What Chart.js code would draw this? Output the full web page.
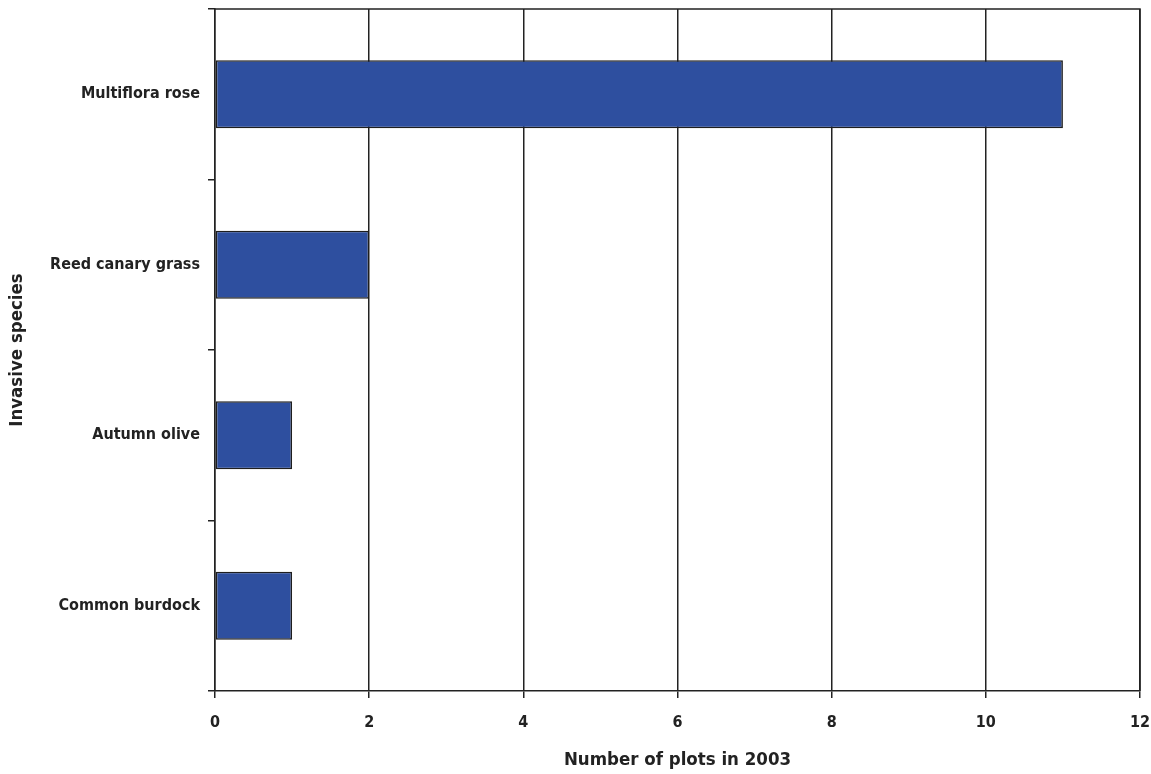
<!DOCTYPE html>
<html>
<head>
<meta charset="utf-8">
<script src="https://cdn.jsdelivr.net/npm/chart.js@4"></script>
<style>
  html, body { margin: 0; padding: 0; background: #fff; }
  #wrap { width: 1151px; height: 774px; }
</style>
</head>
<body>
<div id="wrap"><canvas id="barChart" width="1151" height="774"></canvas></div>
<script>
const species = ['Multiflora rose', 'Reed canary grass', 'Autumn olive', 'Common burdock'];
const plotCounts = [11, 2, 1, 1];
const xTicks = [0, 2, 4, 6, 8, 10, 12];

const FONT = "'DejaVu Sans Condensed', 'Liberation Sans Narrow', 'Arial Narrow', sans-serif";

// draws the box round the plot area (top and right edges)
const frame = {
  id: 'frame',
  afterDraw(chart) {
    const { ctx, chartArea: a } = chart;
    ctx.save();
    ctx.strokeStyle = '#222';
    ctx.lineWidth = 1.5;
    ctx.beginPath();
    ctx.moveTo(a.left, a.top);
    ctx.lineTo(a.right, a.top);
    ctx.lineTo(a.right, a.bottom);
    ctx.stroke();
    ctx.restore();
  }
};

const noPad = (scale) => {
  scale.paddingTop = 0;
  scale.paddingBottom = 0;
  scale.paddingLeft = 0;
  scale.paddingRight = 0;
};

const ctx = document.getElementById('barChart').getContext('2d');
new Chart(ctx, {
  type: 'bar',
  data: {
    labels: species,
    datasets: [{
      label: 'Number of plots in 2003',
      data: plotCounts,
      backgroundColor: '#2E4F9F',
      borderColor: '#1e1e1e',
      borderWidth: 1.6,
      borderSkipped: false,
      barPercentage: 0.4,
      categoryPercentage: 1
    }]
  },
  options: {
    indexAxis: 'y',
    responsive: false,
    animation: false,
    layout: { padding: { top: 9, right: 11, left: 0, bottom: 0 } },
    plugins: {
      legend: { display: false },
      tooltip: { enabled: false }
    },
    scales: {
      x: {
        min: 0,
        max: 12,
        afterFit(scale) { scale.height = 83; noPad(scale); },
        afterBuildTicks(scale) { scale.ticks = xTicks.map(v => ({ value: v })); },
        grid: { color: '#222', lineWidth: 1.5, tickLength: 7, tickColor: '#222' },
        border: { color: '#222', width: 1.5 },
        ticks: {
          color: '#222',
          padding: 15,
          font: { family: FONT, size: 16, weight: 'bold' }
        },
        title: {
          display: true,
          text: 'Number of plots in 2003',
          color: '#222',
          padding: { top: 0, bottom: 3 },
          font: { family: FONT, size: 18.5, weight: 'bold' }
        }
      },
      y: {
        afterFit(scale) { scale.width = 215; noPad(scale); },
        grid: { offset: true, drawOnChartArea: false, tickLength: 7, color: '#222', lineWidth: 1.5 },
        border: { color: '#222', width: 1.5 },
        ticks: {
          color: '#222',
          padding: 8,
          font: { family: FONT, size: 16, weight: 'bold' }
        },
        title: {
          display: true,
          text: 'Invasive species',
          color: '#222',
          padding: { top: 6, bottom: 0 },
          font: { family: FONT, size: 18.5, weight: 'bold' }
        }
      }
    }
  },
  plugins: [frame]
});
</script>
</body>
</html>
